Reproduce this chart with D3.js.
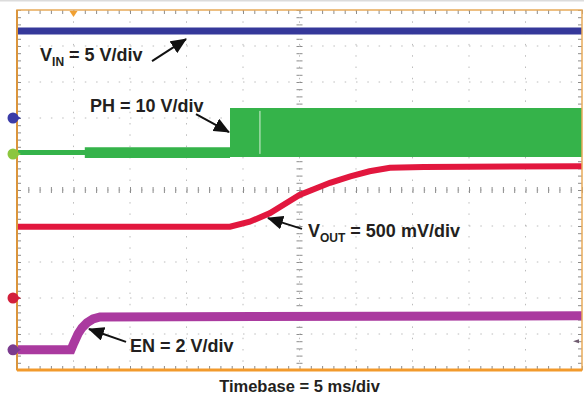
<!DOCTYPE html>
<html lang="en">
<head>
<meta charset="UTF-8">
<title>Start-up waveforms</title>
<script src="https://d3js.org/d3.v7.min.js"></script>
<style>
  body { margin: 0; background: #fff; }
  svg { display: block; font-family: "Liberation Sans", Arial, sans-serif; font-weight: bold; }
  .grid line { stroke: #bcbcbc; stroke-width: 1; stroke-dasharray: 1.5 9.8; }
  .ticks path { display: none; }
  .ticks line { stroke: #8c8c8c; }
  .label { font-size: 18px; fill: #231f20; }
</style>
</head>
<body>
<svg width="584" height="396"></svg>
<script>
// screen: 5 ms/div x 10 div, 10 vertical div
const timeDomain = [0, 50];
const divDomain = [-5, 5];

// channel ground offsets (div) and scales (V/div)
const vinScale = 5, vinOffset = 2.0;
const phScale = 10, phOffset = 1.0;
const voutScale = 0.5, voutOffset = -3.0;
const enScale = 2, enOffset = -4.44;

// VIN
const vinTime = [0, 50];
const vinValues = [12.1, 12.1];

// PH switch node envelope
const phTime = [0, 6.0, 18.85, 50];
const phHigh = [1.1, 1.9, 12.8, 12.8];
const phLow = [-0.3, -1.1, -0.8, -0.8];
const phGlitch = 21.5;

// VOUT
const voutTime = [0, 18.85, 20.6, 22.4, 25.0, 27.7, 29.5, 31.2, 33.0, 36.0, 50];
const voutValues = [0.99, 0.99, 1.06, 1.18, 1.43, 1.60, 1.69, 1.76, 1.81, 1.82, 1.83];

// EN
const enTime = [0, 4.78, 5.04, 5.40, 5.75, 6.19, 6.73, 7.35, 50];
const enValues = [0, 0, 0.39, 0.89, 1.22, 1.50, 1.72, 1.83, 1.89];

// annotations: text position (ms, div), arrow start and tip (ms, div)
const labelMain = ["V", "PH = 10 V/div", "V", "EN = 2 V/div"];
const labelSub = ["IN", "", "OUT", ""];
const labelRest = [" = 5 V/div", "", " = 500 mV/div", ""];
const labelPos = [[2.04, 3.58], [6.46, 2.17], [25.75, -1.31], [10.0, -4.5]];
const arrowFrom = [[11.95, 3.58], [15.84, 2.11], [25.22, -1.08], [9.65, -4.22]];
const arrowTo = [[14.96, 4.19], [18.76, 1.61], [22.21, -0.78], [6.37, -3.86]];

const trigTime = 5;
const trigLevel = -4.2;

const svg = d3.select("svg");
const x = d3.scaleLinear().domain(timeDomain).range([17, 582]);
const y = d3.scaleLinear().domain(divDomain).range([370, 10]);

svg.append("rect").attr("width", 584).attr("height", 396).attr("fill", "#fff");
svg.append("line").attr("x1", 0).attr("x2", 584).attr("y1", 0.5).attr("y2", 0.5)
  .attr("stroke", "#dcdcdc").attr("stroke-width", 2);

// dotted grid
const grid = svg.append("g").attr("class", "grid");
grid.selectAll(".v").data(d3.range(5, 50, 5)).join("line")
  .attr("x1", d => x(d)).attr("x2", d => x(d)).attr("y1", y(5)).attr("y2", y(-5));
grid.selectAll(".h").data(d3.range(-4, 5, 1)).join("line")
  .attr("x1", x(0)).attr("x2", x(50)).attr("y1", d => y(d)).attr("y2", d => y(d));

// minor ticks on centre lines and edges
const tTicks = d3.range(0, 50.01, 1);
const dTicks = d3.range(-5, 5.01, 0.2);
const tk = (axis, tr) => svg.append("g").attr("class", "ticks").attr("transform", tr)
  .call(axis.tickSizeOuter(0).tickFormat(""));
tk(d3.axisTop(x).tickValues(tTicks).tickSize(3), `translate(0,${y(0)})`);
tk(d3.axisBottom(x).tickValues(tTicks).tickSize(3), `translate(0,${y(0)})`);
tk(d3.axisLeft(y).tickValues(dTicks).tickSize(3), `translate(${x(25)},0)`);
tk(d3.axisRight(y).tickValues(dTicks).tickSize(3), `translate(${x(25)},0)`);
tk(d3.axisBottom(x).tickValues(tTicks).tickSize(4), `translate(0,${y(5)})`);
tk(d3.axisTop(x).tickValues(tTicks).tickSize(4), `translate(0,${y(-5)})`);
tk(d3.axisLeft(y).tickValues(dTicks).tickSize(4), `translate(${x(50)},0)`);
tk(d3.axisRight(y).tickValues(dTicks).tickSize(4), `translate(${x(0)},0)`);

// traces
const trace = (time, vals, off, sc) => d3.line()
  .x((d, i) => x(time[i]))
  .y(d => y(off + d / sc))(vals);

svg.append("path").attr("d", trace(vinTime, vinValues, vinOffset, vinScale))
  .attr("fill", "none").attr("stroke", "#35389a").attr("stroke-width", 7);

const phArea = d3.area()
  .curve(d3.curveStepAfter)
  .x((d, i) => x(phTime[i]))
  .y0((d, i) => y(phOffset + phLow[i] / phScale))
  .y1(d => y(phOffset + d / phScale));
svg.append("path").attr("d", phArea(phHigh)).attr("fill", "#35b34a");
svg.append("line")
  .attr("x1", x(phGlitch)).attr("x2", x(phGlitch))
  .attr("y1", y(phOffset + phHigh[2] / phScale) + 3).attr("y2", y(phOffset + phLow[2] / phScale) - 3)
  .attr("stroke", "#d8f0d8").attr("stroke-width", 1);

svg.append("path").attr("d", trace(voutTime, voutValues, voutOffset, voutScale))
  .attr("fill", "none").attr("stroke", "#e2173e").attr("stroke-width", 6);

svg.append("path").attr("d", trace(enTime, enValues, enOffset, enScale))
  .attr("fill", "none").attr("stroke", "#aa3a9f").attr("stroke-width", 9);

// frame
svg.append("rect").attr("x", x(0)).attr("y", y(5)).attr("width", x(50) - x(0)).attr("height", y(-5) - y(5))
  .attr("fill", "none").attr("stroke", "#e8aa5a").attr("stroke-width", 1.5);
svg.append("line").attr("x1", x(0)).attr("x2", x(0)).attr("y1", y(5)).attr("y2", y(-5))
  .attr("stroke", "#db953c").attr("stroke-width", 2);
svg.append("line").attr("x1", x(0)).attr("x2", x(50)).attr("y1", y(-5)).attr("y2", y(-5))
  .attr("stroke", "#f29a2c").attr("stroke-width", 3);

// channel ground markers
const markers = [[vinOffset, "#3b3ca8"], [phOffset, "#8cc63f"], [voutOffset, "#d3203c"], [enOffset, "#7b3b8e"]];
markers.forEach(([off, col]) => {
  const cy = y(off);
  svg.append("path").attr("d", `M13,${cy - 4.5}L21,${cy}L13,${cy + 4.5}Z`).attr("fill", col);
  svg.append("circle").attr("cx", 13).attr("cy", cy).attr("r", 5.5).attr("fill", col);
});

// trigger position and level
svg.append("path").attr("d", `M${x(trigTime) - 4},${y(5) + 1}L${x(trigTime) + 4},${y(5) + 1}L${x(trigTime)},${y(5) + 7}Z`)
  .attr("fill", "#f0a032");
svg.append("path").attr("d", `M${x(50) - 9},${y(trigLevel)}L${x(50) - 3},${y(trigLevel) - 2}L${x(50) - 3},${y(trigLevel) + 2}Z`)
  .attr("fill", "#6e5a6e");

// arrows
svg.append("defs").append("marker")
  .attr("id", "head").attr("markerUnits", "userSpaceOnUse")
  .attr("viewBox", "0 0 16 14").attr("refX", 15).attr("refY", 7)
  .attr("markerWidth", 16).attr("markerHeight", 14).attr("orient", "auto")
  .append("path").attr("d", "M0,0L16,7L0,14Z").attr("fill", "#111");

arrowFrom.forEach((f, i) => {
  svg.append("line")
    .attr("x1", x(f[0])).attr("y1", y(f[1]))
    .attr("x2", x(arrowTo[i][0])).attr("y2", y(arrowTo[i][1]))
    .attr("stroke", "#111").attr("stroke-width", 2)
    .attr("marker-end", "url(#head)");
});

// labels
labelMain.forEach((m, i) => {
  const t = svg.append("text").attr("class", "label")
    .attr("x", x(labelPos[i][0])).attr("y", y(labelPos[i][1]));
  t.append("tspan").text(m);
  if (labelSub[i]) {
    t.append("tspan").attr("dy", 5).attr("font-size", 12).text(labelSub[i]);
    t.append("tspan").attr("dy", -5).text(labelRest[i]);
  }
});

svg.append("text").attr("class", "label")
  .attr("x", x(25)).attr("y", 392).attr("text-anchor", "middle")
  .style("font-size", "16.5px")
  .text("Timebase = 5 ms/div");
</script>
</body>
</html>
